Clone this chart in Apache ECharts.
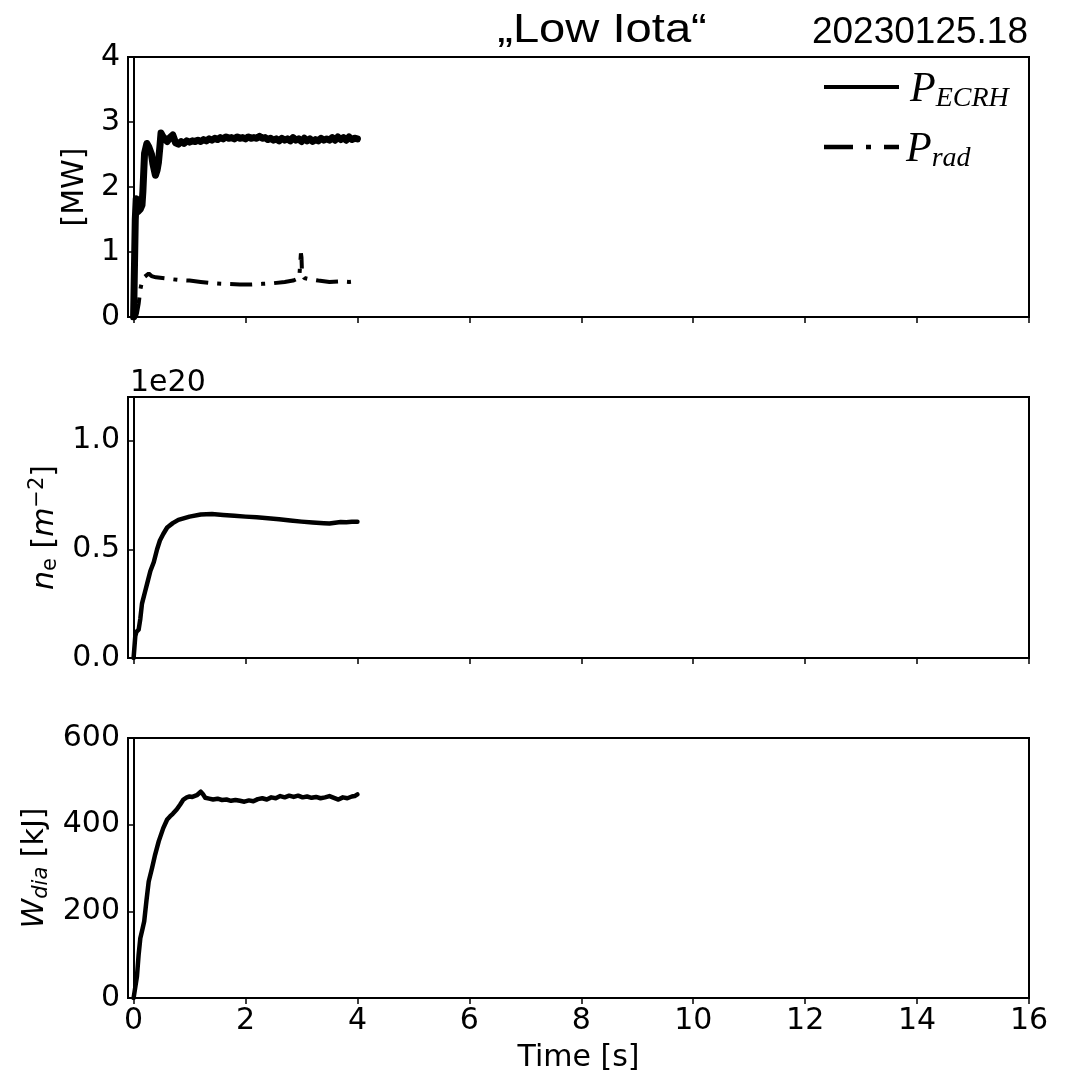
<!DOCTYPE html>
<html>
<head>
<meta charset="utf-8">
<script src="https://cdn.jsdelivr.net/npm/echarts@6/dist/echarts.min.js"></script>
<style>
  html, body { margin: 0; padding: 0; background: #fff; }
  #chart { width: 1073px; height: 1074px; }
</style>
</head>
<body>
<div id="chart"></div>
<script>
// values, [time s, value]
const timeTicks = [0, 2, 4, 6, 8, 10, 12, 14, 16];
const densityTicks = [0, 0.5, 1.0];

const ecrhPower = [
  [0, 0], [0.018, 0], [0.03, 1.5], [0.047, 1.82], [0.06, 1.76], [0.077, 1.62], [0.1, 1.6], [0.12, 1.66],
  [0.15, 1.72], [0.166, 1.93], [0.196, 2.52], [0.237, 2.67], [0.27, 2.62], [0.296, 2.64], [0.32, 2.5],
  [0.344, 2.36], [0.39, 2.18], [0.42, 2.26], [0.444, 2.38], [0.47, 2.62], [0.49, 2.83], [0.52, 2.78],
  [0.55, 2.80], [0.60, 2.70], [0.65, 2.76], [0.70, 2.80], [0.75, 2.68], [0.80, 2.66], [0.85, 2.70],
  [0.90, 2.67], [0.95, 2.71], [1.00, 2.69], [1.05, 2.71], [1.10, 2.70], [1.15, 2.72], [1.20, 2.70],
  [1.25, 2.73], [1.30, 2.71], [1.35, 2.74], [1.40, 2.72], [1.45, 2.75], [1.50, 2.73], [1.55, 2.76],
  [1.60, 2.74], [1.65, 2.77], [1.70, 2.75], [1.75, 2.76], [1.80, 2.74], [1.85, 2.77], [1.90, 2.75],
  [1.95, 2.76], [2.00, 2.74], [2.05, 2.77], [2.10, 2.75], [2.15, 2.76], [2.20, 2.75], [2.25, 2.78],
  [2.30, 2.75], [2.35, 2.76], [2.40, 2.73], [2.45, 2.75], [2.50, 2.72], [2.55, 2.74], [2.60, 2.71],
  [2.65, 2.75], [2.70, 2.72], [2.75, 2.74], [2.80, 2.71], [2.85, 2.76], [2.90, 2.72], [2.95, 2.74],
  [3.00, 2.70], [3.05, 2.75], [3.10, 2.71], [3.15, 2.74], [3.20, 2.70], [3.25, 2.73], [3.30, 2.71],
  [3.35, 2.75], [3.40, 2.72], [3.45, 2.74], [3.50, 2.72], [3.55, 2.76], [3.60, 2.72], [3.65, 2.77],
  [3.70, 2.73], [3.75, 2.76], [3.80, 2.72], [3.85, 2.77], [3.90, 2.73], [3.95, 2.75], [4.00, 2.74]
];

const radPower = [
  [0, 0], [0.04, 0], [0.06, 0.06], [0.09, 0.2], [0.12, 0.42], [0.15, 0.55], [0.2, 0.62], [0.27, 0.67],
  [0.32, 0.63], [0.4, 0.61], [0.6, 0.59], [0.8, 0.57], [1.0, 0.56], [1.2, 0.54], [1.4, 0.52], [1.6, 0.51],
  [1.9, 0.5], [2.1, 0.5], [2.3, 0.51], [2.5, 0.52], [2.7, 0.54], [2.85, 0.56], [2.96, 0.6], [2.98, 0.62],
  [2.99, 0.98], [3.0, 0.92], [3.01, 0.66], [3.05, 0.6], [3.15, 0.58], [3.3, 0.56], [3.5, 0.54],
  [3.7, 0.55], [3.85, 0.54], [3.97, 0.55]
];

const lineDensity = [
  [0, 0], [0.02, 0], [0.03, 0.1], [0.05, 0.12], [0.09, 0.13], [0.12, 0.18], [0.15, 0.25], [0.2, 0.3],
  [0.25, 0.35], [0.3, 0.4], [0.36, 0.44], [0.42, 0.5], [0.47, 0.54], [0.53, 0.57], [0.6, 0.6],
  [0.7, 0.62], [0.8, 0.635], [1.0, 0.65], [1.2, 0.66], [1.4, 0.662], [1.6, 0.658], [1.8, 0.654],
  [2.0, 0.65], [2.2, 0.647], [2.4, 0.643], [2.6, 0.638], [2.8, 0.632], [3.0, 0.627], [3.2, 0.623],
  [3.4, 0.62], [3.5, 0.618], [3.6, 0.622], [3.7, 0.625], [3.8, 0.624], [3.9, 0.626], [4.0, 0.626]
];

const diaEnergy = [
  [0, 0], [0.03, 0], [0.06, 50], [0.09, 100], [0.12, 138], [0.16, 160], [0.19, 177], [0.23, 225],
  [0.27, 269], [0.33, 300], [0.385, 331], [0.45, 362], [0.53, 392], [0.6, 412], [0.65, 419], [0.7, 425],
  [0.77, 435], [0.83, 446], [0.89, 458], [0.95, 463], [1.0, 465], [1.05, 464], [1.13, 468], [1.2, 476],
  [1.24, 470], [1.28, 462], [1.35, 460], [1.42, 458], [1.5, 460], [1.58, 457], [1.66, 458], [1.74, 455],
  [1.82, 457], [1.9, 455], [1.98, 453], [2.06, 456], [2.14, 454], [2.22, 459], [2.3, 461], [2.38, 458],
  [2.46, 463], [2.54, 461], [2.62, 466], [2.7, 463], [2.78, 467], [2.86, 464], [2.94, 467], [3.02, 463],
  [3.1, 465], [3.18, 462], [3.26, 464], [3.34, 461], [3.42, 463], [3.5, 466], [3.58, 462], [3.66, 458],
  [3.74, 463], [3.82, 461], [3.9, 465], [3.95, 466], [4.0, 470]
];

const FONT = 'DejaVu Sans';
const tickFont = { fontFamily: FONT, fontSize: 30, color: '#000' };
const axisLine = { show: true, lineStyle: { color: '#000', width: 2 } };
const axisTick = { show: true, inside: false, length: 6, lineStyle: { color: '#000', width: 1.5 } };

function makeX(gridIndex, withLabels) {
  return {
    type: 'value', gridIndex: gridIndex, min: -0.1, max: 16,
    axisLine: axisLine,
    axisTick: Object.assign({ customValues: timeTicks }, axisTick),
    axisLabel: Object.assign({ show: withLabels, customValues: timeTicks, margin: 8 }, tickFont),
    splitLine: { show: false },
    name: withLabels ? 'Time [s]' : '',
    nameLocation: 'middle', nameGap: 45,
    nameTextStyle: { fontFamily: FONT, fontSize: 30, color: '#000' }
  };
}

const rich = {
  i: { fontFamily: FONT, fontSize: 30, fontStyle: 'italic', color: '#000' },
  n: { fontFamily: FONT, fontSize: 30, color: '#000' },
  sub: { fontFamily: FONT, fontSize: 21, color: '#000', padding: [12, 0, 0, 0] },
  subi: { fontFamily: FONT, fontSize: 21, fontStyle: 'italic', color: '#000', padding: [12, 0, 0, 0] },
  sup: { fontFamily: FONT, fontSize: 21, color: '#000', padding: [0, 0, 14, 0] }
};

const chart = echarts.init(document.getElementById('chart'), null, { renderer: 'canvas' });

const option = {
  backgroundColor: '#fff',
  animation: false,
  grid: [
    { left: 128, right: 44, top: 57, height: 260, show: true, borderColor: '#000', borderWidth: 2, outerBoundsMode: 'none' },
    { left: 128, right: 44, top: 397, height: 261, show: true, borderColor: '#000', borderWidth: 2, outerBoundsMode: 'none' },
    { left: 128, right: 44, top: 738, height: 260, show: true, borderColor: '#000', borderWidth: 2, outerBoundsMode: 'none' }
  ],
  xAxis: [makeX(0, false), makeX(1, false), makeX(2, true)],
  yAxis: [
    {
      type: 'value', gridIndex: 0, min: 0, max: 4, interval: 1,
      axisLine: axisLine, axisTick: axisTick, splitLine: { show: false },
      axisLabel: Object.assign({ margin: 8 }, tickFont),
      name: '[MW]', nameLocation: 'middle', nameRotate: 90, nameGap: 30,
      nameTextStyle: { fontFamily: FONT, fontSize: 30, color: '#000' }
    },
    {
      type: 'value', gridIndex: 1, min: 0, max: 1.2,
      axisLine: axisLine,
      axisTick: Object.assign({ customValues: densityTicks }, axisTick),
      splitLine: { show: false },
      axisLabel: Object.assign({ margin: 8, customValues: densityTicks, formatter: v => v.toFixed(1) }, tickFont),
      name: '{i|n}{sub|e} {n|[}{i|m}{sup|\u22122}{n|]}', nameLocation: 'middle', nameRotate: 90, nameGap: 64,
      nameTextStyle: { fontFamily: FONT, fontSize: 30, color: '#000', rich: rich }
    },
    {
      type: 'value', gridIndex: 2, min: 0, max: 600, interval: 200,
      axisLine: axisLine, axisTick: axisTick, splitLine: { show: false },
      axisLabel: Object.assign({ margin: 8 }, tickFont),
      name: '{i|W}{subi|dia} {n|[kJ]}', nameLocation: 'middle', nameRotate: 90, nameGap: 70,
      nameTextStyle: { fontFamily: FONT, fontSize: 30, color: '#000', rich: rich }
    }
  ],
  series: [
    {
      name: 'P_ECRH', type: 'line', xAxisIndex: 0, yAxisIndex: 0, data: ecrhPower,
      showSymbol: false, lineStyle: { color: '#000', width: 7, join: 'round', cap: 'round' }
    },
    {
      name: 'P_rad', type: 'line', xAxisIndex: 0, yAxisIndex: 0, data: radPower,
      showSymbol: false, lineStyle: { color: '#000', width: 4, type: [22, 9, 4, 9] }
    },
    {
      name: 'n_e', type: 'line', xAxisIndex: 1, yAxisIndex: 1, data: lineDensity,
      showSymbol: false, lineStyle: { color: '#000', width: 4.5, join: 'round', cap: 'round' }
    },
    {
      name: 'W_dia', type: 'line', xAxisIndex: 2, yAxisIndex: 2, data: diaEnergy,
      showSymbol: false, lineStyle: { color: '#000', width: 4.5, join: 'round', cap: 'round' }
    }
  ],
  graphic: [
    {
      type: 'text', x: 602, y: 31, scaleX: 1.15,
      style: { text: '\u201ELow Iota\u201C', fontFamily: 'Liberation Sans', fontSize: 41, fill: '#000', textAlign: 'center', textVerticalAlign: 'middle' }
    },
    {
      type: 'text', x: 1028, y: 33,
      style: { text: '20230125.18', fontFamily: 'Liberation Sans', fontSize: 37, fill: '#000', textAlign: 'right', textVerticalAlign: 'middle' }
    },
    {
      type: 'text', x: 130, y: 383,
      style: { text: '1e20', fontFamily: FONT, fontSize: 30, fill: '#000', textAlign: 'left', textVerticalAlign: 'middle' }
    },
    {
      type: 'line', shape: { x1: 824, y1: 87, x2: 899, y2: 87 },
      style: { stroke: '#000', lineWidth: 4 }
    },
    {
      type: 'line', shape: { x1: 824, y1: 147, x2: 899, y2: 147 },
      style: { stroke: '#000', lineWidth: 4.5, lineDash: [29, 13, 5, 13] }
    },
    {
      type: 'text', x: 910, y: 90,
      style: {
        text: '{p|P}{s|ECRH}', textAlign: 'left', textVerticalAlign: 'middle',
        rich: {
          p: { fontFamily: 'Liberation Serif', fontStyle: 'italic', fontSize: 42, fill: '#000' },
          s: { fontFamily: 'Liberation Serif', fontStyle: 'italic', fontSize: 28, fill: '#000', padding: [18, 0, 0, 0] }
        }
      }
    },
    {
      type: 'text', x: 906, y: 150,
      style: {
        text: '{p|P}{s|rad}', textAlign: 'left', textVerticalAlign: 'middle',
        rich: {
          p: { fontFamily: 'Liberation Serif', fontStyle: 'italic', fontSize: 42, fill: '#000' },
          s: { fontFamily: 'Liberation Serif', fontStyle: 'italic', fontSize: 28, fill: '#000', padding: [18, 0, 0, 0] }
        }
      }
    }
  ]
};

chart.setOption(option);
</script>
</body>
</html>
